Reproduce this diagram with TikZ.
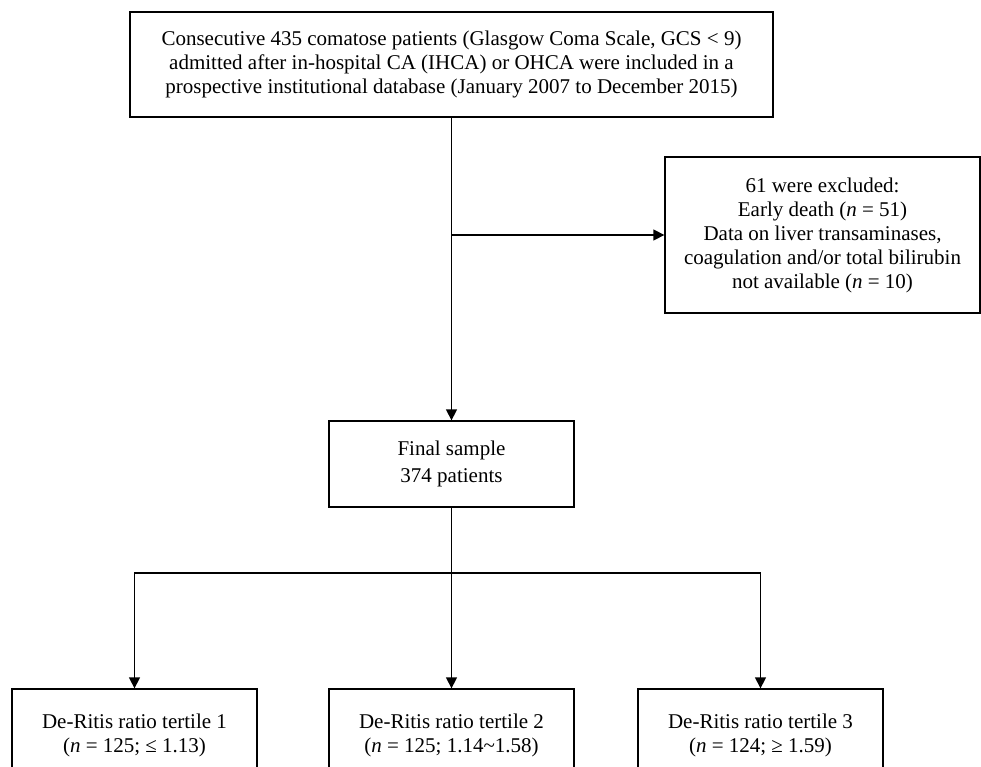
\documentclass[tikz,border=0pt]{standalone}
\usepackage{fontspec}
\setmainfont{Liberation Serif}
\usetikzlibrary{arrows.meta}

\tikzset{
	box/.style={draw, align=center, inner sep=0pt, font=\fontsize{21}{24}\selectfont},
	arr/.style={-{Triangle[length=11pt,width=11pt]}},
}

\begin{document}
\begin{tikzpicture}[x=1pt,y=-1pt,line width=1.3pt]
	\useasboundingbox (0,0) rectangle (981,767);
		%boxes
			\node[box, minimum width=643pt, minimum height=105pt] (pts) at (451.5,64.5) {Consecutive 435 comatose patients (Glasgow Coma Scale, GCS < 9)\\admitted after in-hospital CA (IHCA) or OHCA were included in a\\prospective institutional database (January 2007 to December 2015)};
			\node[box, minimum width=315pt, minimum height=156pt] (excl) at (822.5,235) {61 were excluded:\\Early death (\textit{n} = 51)\\Data on liver transaminases,\\coagulation and/or total bilirubin\\not available (\textit{n} = 10)};
			\node[box, minimum width=245pt, minimum height=86pt] (final) at (451.5,464) {Final sample\\[3pt]374 patients};
			\node[box, minimum width=245pt, minimum height=92pt] (t1) at (134.5,735) {De-Ritis ratio tertile 1\\(\textit{n} = 125; ≤ 1.13)};
			\node[box, minimum width=245pt, minimum height=92pt] (t2) at (451.5,735) {De-Ritis ratio tertile 2\\(\textit{n} = 125; 1.14\textasciitilde1.58)};
			\node[box, minimum width=245pt, minimum height=92pt] (t3) at (760.5,735) {De-Ritis ratio tertile 3\\(\textit{n} = 124; ≥ 1.59)};
		%joints
			\coordinate (split) at (451.5,235);
			\coordinate (fork) at (451.5,573);
		%arrows
			\draw [arr] (pts) -- (final);
			\draw [arr] (split) -- (excl);
			\draw (final) -- (fork);
			\draw [arr] (fork) -| (t1);
			\draw [arr] (fork) -- (t2);
			\draw [arr] (fork) -| (t3);
\end{tikzpicture}
\end{document}
